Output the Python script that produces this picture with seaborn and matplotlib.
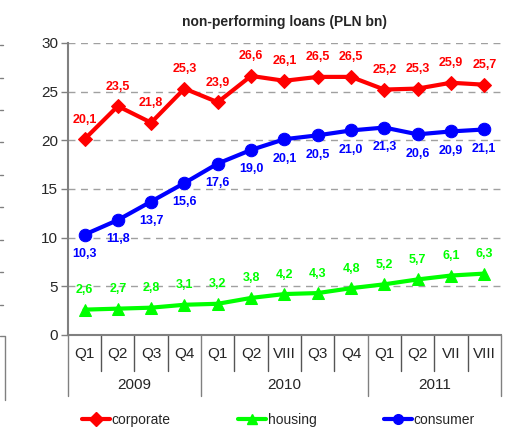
import matplotlib
matplotlib.use("Agg")
import matplotlib.pyplot as plt
import seaborn as sns
import pandas as pd
import numpy as np
from matplotlib.lines import Line2D

# dane
periods = ["Q1", "Q2", "Q3", "Q4", "Q1", "Q2", "VIII", "Q3", "Q4", "Q1", "Q2", "VII", "VIII"]
years = ["2009", "2010", "2011"]
year_spans = [(0, 4), (4, 9), (9, 13)]
corporate = [20.1, 23.5, 21.8, 25.3, 23.9, 26.6, 26.1, 26.5, 26.5, 25.2, 25.3, 25.9, 25.7]
housing = [2.6, 2.7, 2.8, 3.1, 3.2, 3.8, 4.2, 4.3, 4.8, 5.2, 5.7, 6.1, 6.3]
consumer = [10.3, 11.8, 13.7, 15.6, 17.6, 19.0, 20.1, 20.5, 21.0, 21.3, 20.6, 20.9, 21.1]

series = {"corporate": corporate, "housing": housing, "consumer": consumer}
colors = {"corporate": "#ff0000", "housing": "#00ff00", "consumer": "#0000ff"}
markers = {"corporate": "D", "housing": "^", "consumer": "o"}
label_offset = {"corporate": 14, "housing": 14, "consumer": -14}

rows = []
for name, vals in series.items():
    for i, v in enumerate(vals):
        rows.append({"pos": i, "value": v, "series": name})
df = pd.DataFrame(rows)

sns.set_style("white")
plt.rcParams["font.family"] = ["Liberation Sans", "DejaVu Sans"]

fig = plt.figure(figsize=(5.18, 4.46), dpi=100)
ax = fig.add_axes([0.131, 0.249, 0.836, 0.655])

for name in series:
    sub = df[df["series"] == name]
    sns.lineplot(data=sub, x="pos", y="value", ax=ax, color=colors[name],
                 marker=markers[name], markersize=9 if name != "corporate" else 7.5,
                 markeredgecolor=colors[name], linewidth=3, legend=False)
    for _, r in sub.iterrows():
        ax.annotate(f"{r['value']:.1f}".replace(".", ","), (r["pos"], r["value"]),
                    xytext=(0, label_offset[name]), textcoords="offset points",
                    ha="center", va="center", fontsize=9, fontweight="bold",
                    color=colors[name])

ax.set_xlim(-0.5, len(periods) - 0.5)
ax.set_ylim(0, 30)
ax.set_yticks(range(0, 31, 5))
for y in range(5, 31, 5):
    ax.axhline(y, color="#a0a0a0", linestyle=(0, (5, 4)), linewidth=1, zorder=0)

ax.set_xticks([])
ax.set_xlabel("")
ax.set_ylabel("")
ax.set_title("non-performing loans (PLN bn)", fontsize=10, fontweight="bold", pad=12)
ax.tick_params(axis="y", left=True, length=5, width=1, color="#808080",
               labelsize=11, pad=2)
for s in ["top", "right"]:
    ax.spines[s].set_visible(False)
for s in ["left", "bottom"]:
    ax.spines[s].set_color("#808080")
    ax.spines[s].set_linewidth(1.5)

# podpisy osi X: okresy i lata
trans = ax.get_xaxis_transform()
for i, p in enumerate(periods):
    ax.text(i, -0.065, p, transform=trans, ha="center", va="center", fontsize=11)
for b in range(len(periods) + 1):
    is_year = b in [s for s, _ in year_spans] or b == len(periods)
    ax.plot([b - 0.5, b - 0.5], [0, -0.21 if is_year else -0.125], transform=trans,
            color="#808080" if is_year else "#555555", linewidth=1, clip_on=False)
for yr, (s, e) in zip(years, year_spans):
    ax.text((s + e - 1) / 2, -0.17, yr, transform=trans, ha="center", va="center", fontsize=11)

handles = [Line2D([], [], color=colors[n], marker=markers[n], linewidth=3, markersize=7)
           for n in series]
fig.legend(handles, list(series), loc="center", bbox_to_anchor=(0.5375, 0.058), ncol=3,
           frameon=False, fontsize=10, handlelength=2, handletextpad=0.1,
           columnspacing=4.9)

# fragmenty sąsiedniego wykresu przy lewej krawędzi
for yp in [45, 78, 110, 142, 175, 207, 240, 272, 305]:
    fig.add_artist(Line2D([0, 0.006], [1 - yp / 446] * 2, color="#808080", linewidth=1))
fig.add_artist(Line2D([0, 0.009, 0.009], [1 - 336 / 446, 1 - 336 / 446, 1 - 400 / 446],
                      color="#808080", linewidth=1))

fig.savefig("out.png", dpi=100)
